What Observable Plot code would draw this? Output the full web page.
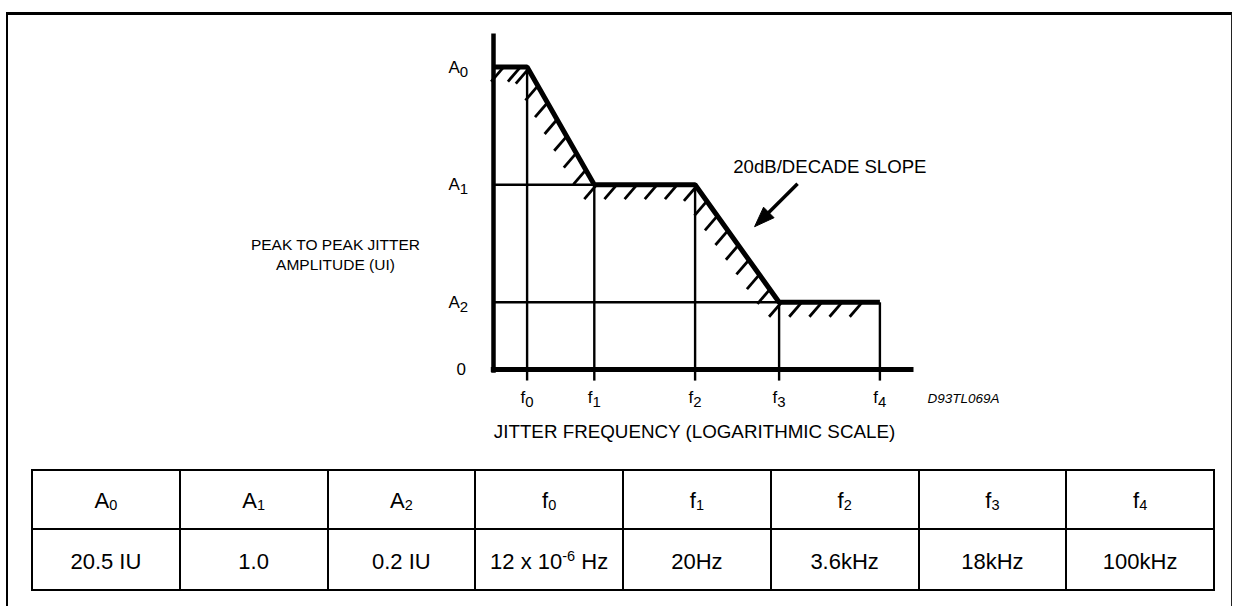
<!DOCTYPE html>
<html><head><meta charset="utf-8">
<script src="https://cdn.jsdelivr.net/npm/d3@7"></script>
<script src="https://cdn.jsdelivr.net/npm/@observablehq/plot@0.6"></script>
<style>
html,body{margin:0;padding:0;background:#fff;width:1233px;height:606px;overflow:hidden;font-family:"Liberation Sans",Arial,sans-serif;}
#frame{position:absolute;left:6px;top:12px;width:1226px;height:700px;box-sizing:border-box;border-top:3px solid #000;border-left:2.5px solid #000;border-right:1.5px solid #222;}
#chart{position:absolute;left:0;top:0;}
#tbl{position:absolute;left:31px;top:469px;width:1184px;border-collapse:collapse;table-layout:fixed;font-size:22px;color:#000;}
#tbl td{border:2.4px solid #000;text-align:center;padding:0;}
#tbl tr.h td{height:54px;padding-top:3px;}
#tbl tr.v td{height:55px;padding-top:4px;}
#tbl sub{font-size:0.66em;vertical-align:-0.12em;line-height:0;}
#tbl sup{font-size:0.66em;vertical-align:0.55em;line-height:0;}
</style></head>
<body>
<div id="frame"></div>
<div id="chart"></div>
<table id="tbl"></table>
<script>
// ---- data (schematic positions) ----
const freqNames = ["f0", "f1", "f2", "f3", "f4"];
const freqPos   = [1, 3, 6, 8.5, 11.5];      // positions on the (schematic) log-frequency axis
const ampNames  = ["A0", "A1", "A2"];
const ampPos    = [9, 5.5, 2];               // positions on the (schematic) amplitude axis
const curveAmpIndex = [0, 1, 1, 2, 2];       // amplitude level at each frequency corner
const xDomain = [0, 12.5];
const yDomain = [0, 10];
const yTitle = "PEAK TO PEAK JITTER\nAMPLITUDE (UI)";
const xTitle = "JITTER FREQUENCY (LOGARITHMIC SCALE)";
const figId = "D93TL069A";
const annotationText = "20dB/DECADE SLOPE";
const tableHeaders = ["A0", "A1", "A2", "f0", "f1", "f2", "f3", "f4"];
const tableValues  = ["20.5 IU", "1.0", "0.2 IU", "12 x 10^-6 Hz", "20Hz", "3.6kHz", "18kHz", "100kHz"];

// ---- derived geometry ----
const curve = [{x: 0, y: ampPos[0]}].concat(freqPos.map((f, i) => ({x: f, y: ampPos[curveAmpIndex[i]]})));
const verticals = freqPos.map((f, i) => ({x: f, y: ampPos[curveAmpIndex[i]], name: freqNames[i]}));
const guidesH = [{y: ampPos[1], x: freqPos[1]}, {y: ampPos[2], x: freqPos[3]}];
const hatches = [];
for (let k = 0; k < curve.length - 1; k++) {
  const a = curve[k], b = curve[k + 1];
  const len = Math.hypot(b.x - a.x, b.y - a.y);
  const n = Math.max(1, Math.round(len / 0.56));
  for (let i = 0; i < n; i++) {
    const t = (i + (k === 0 ? 0.6 : 0.12)) / n;
    hatches.push({x: a.x + (b.x - a.x) * t, y: a.y + (b.y - a.y) * t});
  }
}
const slopeMid = [{x: (freqPos[2] + freqPos[3]) / 2, y: (ampPos[1] + ampPos[2]) / 2}];
const ampLabels = ampNames.map((n, i) => ({label: n, y: ampPos[i]}));
const freqLabels = freqNames.map((n, i) => ({label: n, x: freqPos[i]}));

// arrow head symbol pointing down-left (tip at origin)
const headSymbol = {draw(ctx) { ctx.moveTo(0, 0); ctx.lineTo(19.5, -9); ctx.lineTo(9, -19.5); ctx.closePath(); }};

const plot = Plot.plot({
  width: 1233, height: 455,
  marginLeft: 493, marginRight: 320, marginTop: 33, marginBottom: 86,
  x: {domain: xDomain, axis: null},
  y: {domain: yDomain, axis: null},
  style: {background: "transparent", fontFamily: "'Liberation Sans', Arial, sans-serif", fontSize: "18px", color: "black", overflow: "visible"},
  marks: [
    Plot.link(hatches, {x1: "x", y1: "y", x2: d => d.x - 0.37, y2: d => d.y - 0.43, stroke: "black", strokeWidth: 2.8}),
    Plot.link(guidesH, {x1: () => 0, y1: "y", x2: "x", y2: "y", stroke: "black", strokeWidth: 2.4}),
    Plot.link(verticals, {x1: "x", x2: "x", y1: () => -0.33, y2: "y", stroke: "black", strokeWidth: 2.4}),
    Plot.line(curve, {x: "x", y: "y", stroke: "black", strokeWidth: 5, strokeLinejoin: "miter", strokeLinecap: "butt"}),
    // axis lines
    Plot.link([0], {x1: () => xDomain[0], x2: () => xDomain[0], y1: () => -0.1, y2: () => yDomain[1], stroke: "black", strokeWidth: 4.5}),
    Plot.link([0], {x1: () => -0.08, x2: () => xDomain[1], y1: () => 0, y2: () => 0, stroke: "black", strokeWidth: 5}),
    // tick labels
    Plot.text(ampLabels, {y: "y", text: "label", frameAnchor: "left", dx: -45, textAnchor: "start", fontSize: 17}),
    Plot.text([{label: "0", y: 0}], {y: "y", text: "label", frameAnchor: "left", dx: -37, textAnchor: "start", fontSize: 17}),
    Plot.text(freqLabels, {x: "x", text: "label", frameAnchor: "bottom", dy: 33, fontSize: 17}),
    // titles
    Plot.text([yTitle], {frameAnchor: "left", dx: -158, dy: 52, lineHeight: 1.3, textAnchor: "middle", fontSize: 15.5}),
    Plot.text([xTitle], {frameAnchor: "bottom", dx: -9, dy: 68, textAnchor: "middle", fontSize: 18.8}),
    Plot.text([figId], {frameAnchor: "bottom-right", dx: 14, dy: 33, textAnchor: "start", fontStyle: "italic", fontSize: 13.5}),
    // annotation
    Plot.text(slopeMid, {x: d => d.x + 2.76, y: d => d.y + 2.28, text: () => annotationText, fontSize: 18.6}),
    Plot.link(slopeMid, {x1: d => d.x + 1.8, y1: d => d.y + 1.78, x2: d => d.x + 0.8, y2: d => d.y + 0.78, stroke: "black", strokeWidth: 3.5}),
    Plot.dot(slopeMid, {x: d => d.x + 0.52, y: d => d.y + 0.5, symbol: headSymbol, fill: "black", stroke: "black", strokeWidth: 1, r: 5})
  ]
});
document.getElementById("chart").appendChild(plot);

// subscripts for labels like A0, f3
d3.select(plot).selectAll("text").each(function() {
  const s = this.textContent;
  const m = /^([Af])(\d)$/.exec(s);
  if (!m) return;
  const t = d3.select(this);
  t.text(null);
  t.append("tspan").text(m[1]);
  t.append("tspan").attr("dy", "0.28em").attr("font-size", "0.88em").text(m[2]);
});

// table
const fmt = s => s.replace(/^([Af])(\d)$/, "$1<sub>$2</sub>").replace(/\^(-?\d+)/, "<sup>$1</sup>");
const tbl = document.getElementById("tbl");
tbl.innerHTML = "<tr class='h'>" + tableHeaders.map(h => "<td>" + fmt(h) + "</td>").join("") + "</tr>" +
                "<tr class='v'>" + tableValues.map(v => "<td>" + fmt(v) + "</td>").join("") + "</tr>";
</script>
</body></html>
